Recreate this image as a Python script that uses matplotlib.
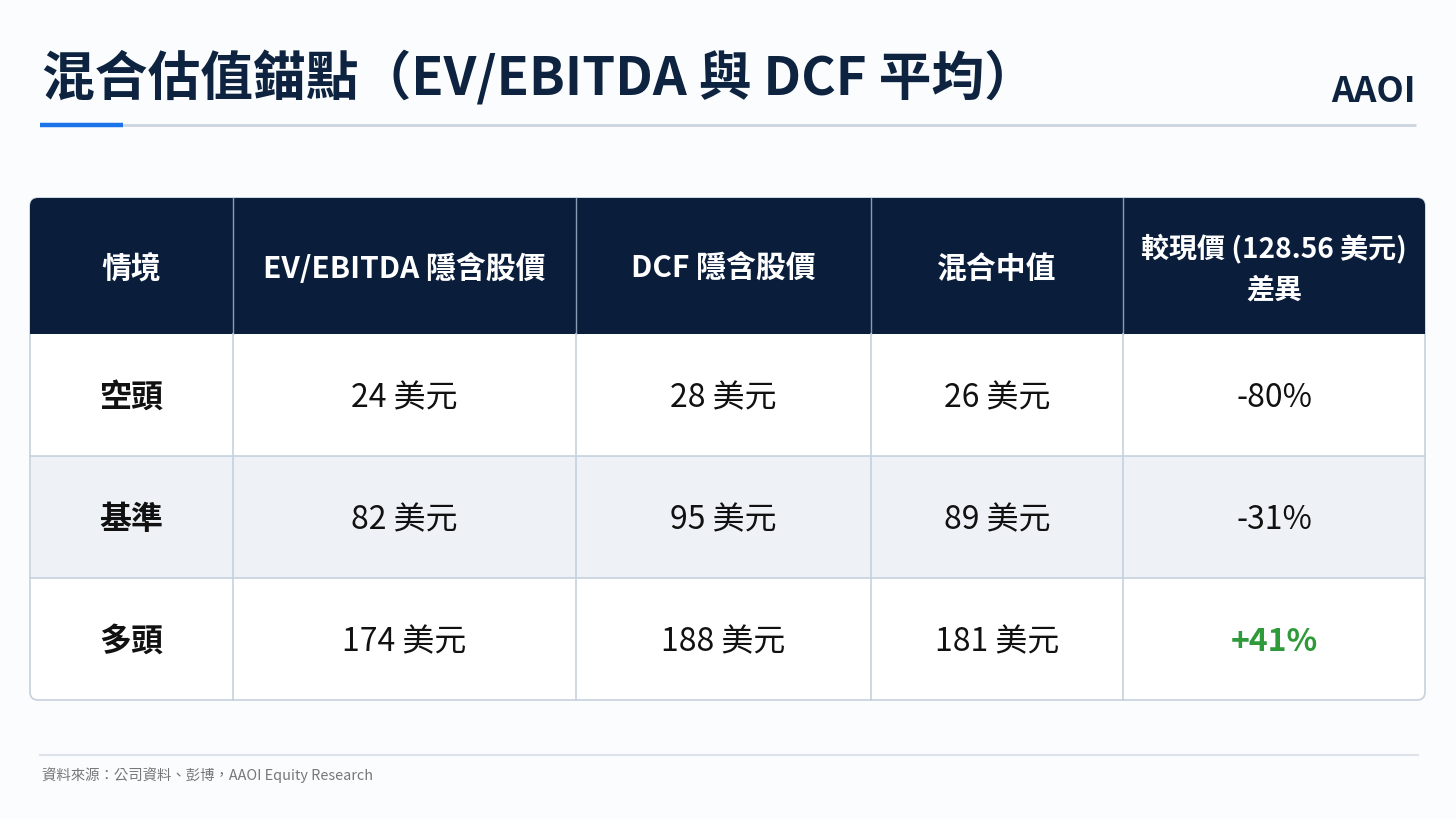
import matplotlib
matplotlib.use("Agg")
import matplotlib.pyplot as plt
from matplotlib.patches import FancyBboxPatch, Rectangle

plt.rcParams['font.family'] = ['Noto Sans CJK TC', 'DejaVu Sans']

title = "混合估值錨點（EV/EBITDA 與 DCF 平均）"
ticker = "AAOI"
source = "資料來源：公司資料、彭博，AAOI Equity Research"

headers = ["情境", "EV/EBITDA 隱含股價", "DCF 隱含股價", "混合中值", "較現價 (128.56 美元)\n差異"]
scenarios = ["空頭", "基準", "多頭"]
ev_ebitda = [24, 82, 174]
dcf = [28, 95, 188]
blended = [26, 89, 181]
diff_pct = [-80, -31, 41]

W, H = 1456, 819
navy = "#0a1e3c"
grid = "#c6d1de"

fig = plt.figure(figsize=(W / 100, H / 100), dpi=100)
fig.patch.set_facecolor("#fbfcfd")
ax = fig.add_axes([0, 0, 1, 1])
ax.set_xlim(0, W)
ax.set_ylim(H, 0)
ax.axis("off")

# title area
ax.text(42, 79, title, fontsize=38, fontweight="bold", color="#0d2340", va="center", ha="left")
ax.text(1416, 92, ticker, fontsize=25.5, fontweight="bold", color="#0d2340", va="center", ha="right")
ax.plot([40, 1416], [125, 125], color="#cbd4df", lw=2, solid_capstyle="butt")
ax.plot([40, 123], [125, 125], color="#1a73e8", lw=3.2, solid_capstyle="butt")

# table geometry
col_x = [30, 233, 576, 871, 1123, 1425]
row_y = [198, 334, 456, 578, 700]
left, right, top, bottom = col_x[0], col_x[-1], row_y[0], row_y[-1]

# outer rounded box (white body)
body = FancyBboxPatch((left, top), right - left, bottom - top,
                      boxstyle="round,pad=0,rounding_size=8",
                      fc="white", ec=grid, lw=1.2, zorder=1)
ax.add_patch(body)

# header (rounded top)
hdr = FancyBboxPatch((left, top), right - left, row_y[1] - top,
                     boxstyle="round,pad=0,rounding_size=8",
                     fc=navy, ec=navy, lw=0, zorder=2)
ax.add_patch(hdr)
ax.add_patch(Rectangle((left, top + 20), right - left, row_y[1] - top - 20,
                       fc=navy, ec="none", zorder=2))

# shaded middle row
ax.add_patch(Rectangle((left + 0.6, row_y[2]), right - left - 1.2, row_y[3] - row_y[2],
                       fc="#eef2f6", ec="none", zorder=2))

# grid lines
for x in col_x[1:-1]:
    ax.plot([x, x], [top, row_y[1]], color="#8a9bb3", lw=1.0, zorder=3)
    ax.plot([x, x], [row_y[1], bottom], color=grid, lw=1.2, zorder=3)
for y in row_y[2:-1]:
    ax.plot([left, right], [y, y], color=grid, lw=1.2, zorder=3)

# header text
for i, h in enumerate(headers):
    cx = (col_x[i] + col_x[i + 1]) / 2
    cy = (row_y[0] + row_y[1]) / 2 + 3
    fs = 20.2 if "\n" in h else 21.5
    ax.text(cx, cy, h, fontsize=fs, fontweight="bold", color="white",
            ha="center", va="center", linespacing=1.6, zorder=4)

# body text
for r, name in enumerate(scenarios):
    cy = (row_y[r + 1] + row_y[r + 2]) / 2 + 3
    cells = [f"{ev_ebitda[r]} 美元", f"{dcf[r]} 美元", f"{blended[r]} 美元"]
    ax.text((col_x[0] + col_x[1]) / 2, cy, name, fontsize=23, fontweight="bold",
            color="#111111", ha="center", va="center", zorder=4)
    for c, txt in enumerate(cells):
        cx = (col_x[c + 1] + col_x[c + 2]) / 2
        ax.text(cx, cy, txt, fontsize=23, color="#111111", ha="center", va="center", zorder=4)
    d = diff_pct[r]
    if d > 0:
        ax.text((col_x[4] + col_x[5]) / 2, cy, f"+{d}%", fontsize=23, fontweight="bold",
                color="#2e9a3a", ha="center", va="center", zorder=4)
    else:
        ax.text((col_x[4] + col_x[5]) / 2, cy, f"{d}%", fontsize=23,
                color="#111111", ha="center", va="center", zorder=4)

# footer
ax.plot([40, 1418], [755, 755], color="#dde3ea", lw=1.5)
ax.text(42, 775, source, fontsize=10.4, color="#777777", ha="left", va="center")

fig.savefig("out.png", dpi=100, facecolor=fig.get_facecolor())
